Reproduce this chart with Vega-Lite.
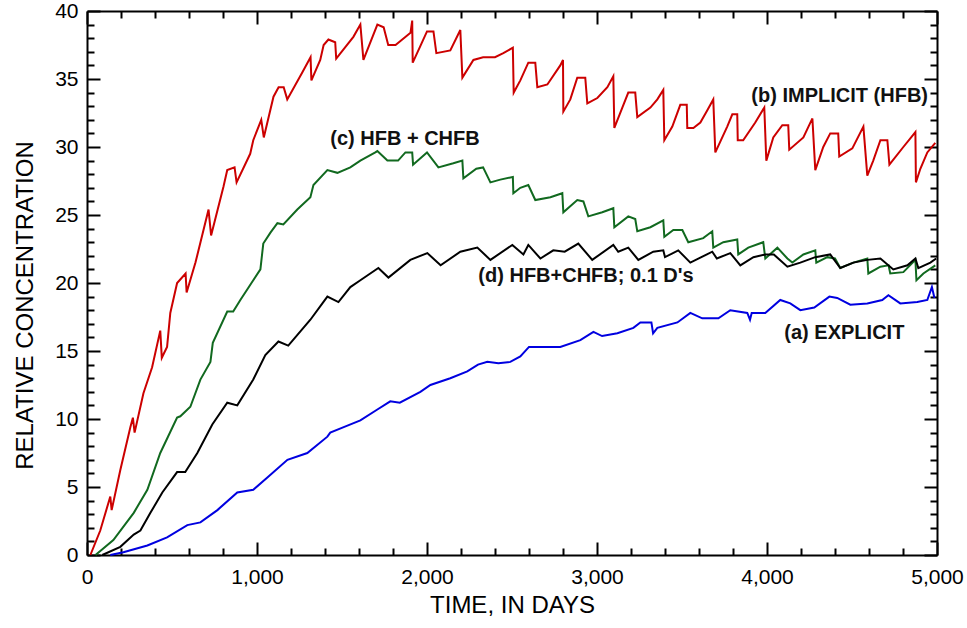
{
  "$schema": "https://vega.github.io/schema/vega-lite/v6.json",
  "width": 850,
  "height": 544,
  "autosize": {"type": "none"},
  "padding": {"left": 87, "top": 11, "right": 30, "bottom": 73},
  "background": "white",
  "config": {"view": {"stroke": null}},
  "data": {"values": [
      {"s":"lbl","t":3908,"c":33.75,"txt":"(b) IMPLICIT (HFB)"},
      {"s":"lbl","t":1431,"c":30.6,"txt":"(c) HFB + CHFB"},
      {"s":"lbl","t":2302,"c":20.5,"txt":"(d) HFB+CHFB; 0.1 D's"},
      {"s":"lbl","t":4102,"c":16.3,"txt":"(a) EXPLICIT"},
      {"s":"b","t":20,"c":0},{"s":"b","t":78,"c":1.8},{"s":"b","t":137,"c":4.3},{"s":"b","t":145,"c":3.3},{"s":"b","t":196,"c":6.25},{"s":"b","t":255,"c":9.4},{"s":"b","t":270,"c":10.1},{"s":"b","t":280,"c":9.0},{"s":"b","t":332,"c":11.9},{"s":"b","t":383,"c":13.8},{"s":"b","t":431,"c":16.5},{"s":"b","t":440,"c":14.5},{"s":"b","t":471,"c":15.3},{"s":"b","t":490,"c":17.8},{"s":"b","t":530,"c":20.0},{"s":"b","t":580,"c":20.7},{"s":"b","t":586,"c":19.3},{"s":"b","t":638,"c":21.5},{"s":"b","t":715,"c":25.4},{"s":"b","t":730,"c":23.5},{"s":"b","t":803,"c":27.1},{"s":"b","t":825,"c":28.3},{"s":"b","t":868,"c":28.5},{"s":"b","t":880,"c":27.4},{"s":"b","t":960,"c":29.5},{"s":"b","t":978,"c":30.5},{"s":"b","t":1025,"c":32.0},{"s":"b","t":1040,"c":30.7},{"s":"b","t":1097,"c":33.7},{"s":"b","t":1127,"c":34.4},{"s":"b","t":1157,"c":34.4},{"s":"b","t":1178,"c":33.5},{"s":"b","t":1267,"c":35.5},{"s":"b","t":1315,"c":36.6},{"s":"b","t":1320,"c":34.9},{"s":"b","t":1372,"c":36.4},{"s":"b","t":1392,"c":37.5},{"s":"b","t":1420,"c":37.9},{"s":"b","t":1460,"c":37.7},{"s":"b","t":1466,"c":36.5},{"s":"b","t":1567,"c":38.1},{"s":"b","t":1608,"c":39.0},{"s":"b","t":1626,"c":36.4},{"s":"b","t":1708,"c":39.0},{"s":"b","t":1745,"c":38.8},{"s":"b","t":1772,"c":37.5},{"s":"b","t":1815,"c":37.5},{"s":"b","t":1903,"c":38.4},{"s":"b","t":1913,"c":39.3},{"s":"b","t":1916,"c":36.2},{"s":"b","t":1960,"c":37.4},{"s":"b","t":2000,"c":38.5},{"s":"b","t":2038,"c":38.5},{"s":"b","t":2055,"c":36.9},{"s":"b","t":2137,"c":37.1},{"s":"b","t":2196,"c":38.6},{"s":"b","t":2208,"c":35.1},{"s":"b","t":2273,"c":36.4},{"s":"b","t":2330,"c":36.6},{"s":"b","t":2400,"c":36.6},{"s":"b","t":2449,"c":36.9},{"s":"b","t":2505,"c":37.3},{"s":"b","t":2510,"c":34.0},{"s":"b","t":2549,"c":34.9},{"s":"b","t":2596,"c":36.2},{"s":"b","t":2637,"c":36.2},{"s":"b","t":2649,"c":34.4},{"s":"b","t":2708,"c":34.6},{"s":"b","t":2784,"c":36.0},{"s":"b","t":2800,"c":36.4},{"s":"b","t":2802,"c":32.6},{"s":"b","t":2843,"c":33.5},{"s":"b","t":2884,"c":35.1},{"s":"b","t":2931,"c":35.1},{"s":"b","t":2943,"c":33.2},{"s":"b","t":3002,"c":33.6},{"s":"b","t":3061,"c":34.4},{"s":"b","t":3096,"c":35.2},{"s":"b","t":3102,"c":31.4},{"s":"b","t":3149,"c":32.9},{"s":"b","t":3184,"c":34.0},{"s":"b","t":3225,"c":34.0},{"s":"b","t":3237,"c":32.2},{"s":"b","t":3314,"c":32.9},{"s":"b","t":3355,"c":33.5},{"s":"b","t":3390,"c":34.2},{"s":"b","t":3396,"c":30.5},{"s":"b","t":3443,"c":31.5},{"s":"b","t":3490,"c":33.1},{"s":"b","t":3528,"c":33.1},{"s":"b","t":3531,"c":31.4},{"s":"b","t":3567,"c":31.4},{"s":"b","t":3608,"c":31.8},{"s":"b","t":3649,"c":32.7},{"s":"b","t":3684,"c":33.5},{"s":"b","t":3696,"c":29.6},{"s":"b","t":3766,"c":31.5},{"s":"b","t":3796,"c":32.4},{"s":"b","t":3825,"c":32.4},{"s":"b","t":3828,"c":30.5},{"s":"b","t":3860,"c":30.5},{"s":"b","t":3931,"c":31.8},{"s":"b","t":3984,"c":32.9},{"s":"b","t":3996,"c":29.0},{"s":"b","t":4037,"c":30.7},{"s":"b","t":4090,"c":31.6},{"s":"b","t":4125,"c":31.6},{"s":"b","t":4131,"c":29.8},{"s":"b","t":4214,"c":30.7},{"s":"b","t":4267,"c":32.1},{"s":"b","t":4284,"c":28.3},{"s":"b","t":4331,"c":30.0},{"s":"b","t":4372,"c":31.0},{"s":"b","t":4419,"c":31.0},{"s":"b","t":4425,"c":29.3},{"s":"b","t":4502,"c":29.9},{"s":"b","t":4567,"c":31.5},{"s":"b","t":4590,"c":27.9},{"s":"b","t":4625,"c":29.0},{"s":"b","t":4667,"c":30.5},{"s":"b","t":4708,"c":30.5},{"s":"b","t":4720,"c":28.7},{"s":"b","t":4802,"c":30.0},{"s":"b","t":4873,"c":31.1},{"s":"b","t":4876,"c":27.4},{"s":"b","t":4902,"c":28.4},{"s":"b","t":4943,"c":29.6},{"s":"b","t":4990,"c":30.3},
      {"s":"c","t":50,"c":0},{"s":"c","t":155,"c":1.1},{"s":"c","t":275,"c":3.1},{"s":"c","t":355,"c":4.8},{"s":"c","t":431,"c":7.5},{"s":"c","t":530,"c":10.1},{"s":"c","t":549,"c":10.2},{"s":"c","t":608,"c":10.9},{"s":"c","t":667,"c":12.9},{"s":"c","t":726,"c":14.2},{"s":"c","t":740,"c":15.6},{"s":"c","t":825,"c":17.9},{"s":"c","t":860,"c":17.9},{"s":"c","t":902,"c":18.75},{"s":"c","t":978,"c":20.2},{"s":"c","t":1020,"c":21.0},{"s":"c","t":1037,"c":22.9},{"s":"c","t":1079,"c":23.7},{"s":"c","t":1120,"c":24.4},{"s":"c","t":1155,"c":24.3},{"s":"c","t":1237,"c":25.4},{"s":"c","t":1314,"c":26.3},{"s":"c","t":1332,"c":27.2},{"s":"c","t":1414,"c":28.3},{"s":"c","t":1473,"c":28.1},{"s":"c","t":1549,"c":28.5},{"s":"c","t":1608,"c":29.0},{"s":"c","t":1696,"c":29.6},{"s":"c","t":1708,"c":29.7},{"s":"c","t":1767,"c":29.0},{"s":"c","t":1830,"c":29.0},{"s":"c","t":1873,"c":29.6},{"s":"c","t":1913,"c":29.6},{"s":"c","t":1918,"c":28.7},{"s":"c","t":2000,"c":29.6},{"s":"c","t":2067,"c":28.5},{"s":"c","t":2155,"c":28.8},{"s":"c","t":2208,"c":29.0},{"s":"c","t":2214,"c":27.7},{"s":"c","t":2290,"c":28.4},{"s":"c","t":2330,"c":28.5},{"s":"c","t":2373,"c":27.4},{"s":"c","t":2431,"c":27.6},{"s":"c","t":2505,"c":27.8},{"s":"c","t":2508,"c":26.6},{"s":"c","t":2549,"c":27.0},{"s":"c","t":2596,"c":27.2},{"s":"c","t":2637,"c":26.1},{"s":"c","t":2726,"c":26.3},{"s":"c","t":2796,"c":26.6},{"s":"c","t":2802,"c":25.2},{"s":"c","t":2884,"c":26.1},{"s":"c","t":2920,"c":26.0},{"s":"c","t":2949,"c":24.9},{"s":"c","t":3031,"c":25.2},{"s":"c","t":3096,"c":25.5},{"s":"c","t":3102,"c":24.1},{"s":"c","t":3184,"c":24.9},{"s":"c","t":3225,"c":24.7},{"s":"c","t":3237,"c":23.8},{"s":"c","t":3314,"c":24.1},{"s":"c","t":3390,"c":24.6},{"s":"c","t":3396,"c":23.4},{"s":"c","t":3449,"c":23.9},{"s":"c","t":3502,"c":23.9},{"s":"c","t":3537,"c":23.0},{"s":"c","t":3625,"c":23.3},{"s":"c","t":3678,"c":23.8},{"s":"c","t":3684,"c":22.6},{"s":"c","t":3743,"c":23.0},{"s":"c","t":3825,"c":23.2},{"s":"c","t":3831,"c":22.1},{"s":"c","t":3890,"c":22.6},{"s":"c","t":3978,"c":23.0},{"s":"c","t":3990,"c":21.8},{"s":"c","t":4061,"c":22.6},{"s":"c","t":4120,"c":21.8},{"s":"c","t":4149,"c":21.5},{"s":"c","t":4214,"c":22.1},{"s":"c","t":4284,"c":22.4},{"s":"c","t":4290,"c":21.5},{"s":"c","t":4355,"c":21.9},{"s":"c","t":4400,"c":21.8},{"s":"c","t":4431,"c":21.1},{"s":"c","t":4508,"c":21.5},{"s":"c","t":4590,"c":21.8},{"s":"c","t":4596,"c":20.7},{"s":"c","t":4667,"c":21.2},{"s":"c","t":4715,"c":21.3},{"s":"c","t":4725,"c":20.7},{"s":"c","t":4802,"c":20.8},{"s":"c","t":4873,"c":21.7},{"s":"c","t":4879,"c":20.2},{"s":"c","t":4920,"c":20.7},{"s":"c","t":4990,"c":21.3},
      {"s":"d","t":90,"c":0},{"s":"d","t":196,"c":0.6},{"s":"d","t":275,"c":1.5},{"s":"d","t":314,"c":1.8},{"s":"d","t":373,"c":3.1},{"s":"d","t":443,"c":4.6},{"s":"d","t":530,"c":6.1},{"s":"d","t":578,"c":6.1},{"s":"d","t":649,"c":7.5},{"s":"d","t":737,"c":9.6},{"s":"d","t":825,"c":11.2},{"s":"d","t":884,"c":11.0},{"s":"d","t":978,"c":12.9},{"s":"d","t":1049,"c":14.7},{"s":"d","t":1126,"c":15.7},{"s":"d","t":1184,"c":15.4},{"s":"d","t":1314,"c":17.3},{"s":"d","t":1390,"c":18.6},{"s":"d","t":1414,"c":19.0},{"s":"d","t":1479,"c":18.6},{"s":"d","t":1549,"c":19.7},{"s":"d","t":1608,"c":20.2},{"s":"d","t":1714,"c":21.1},{"s":"d","t":1773,"c":20.4},{"s":"d","t":1902,"c":21.7},{"s":"d","t":2002,"c":22.2},{"s":"d","t":2080,"c":21.3},{"s":"d","t":2196,"c":22.3},{"s":"d","t":2296,"c":22.6},{"s":"d","t":2373,"c":21.7},{"s":"d","t":2502,"c":22.8},{"s":"d","t":2567,"c":22.1},{"s":"d","t":2596,"c":22.8},{"s":"d","t":2667,"c":21.8},{"s":"d","t":2743,"c":22.4},{"s":"d","t":2810,"c":22.3},{"s":"d","t":2890,"c":22.9},{"s":"d","t":2972,"c":21.7},{"s":"d","t":3096,"c":22.8},{"s":"d","t":3125,"c":22.3},{"s":"d","t":3184,"c":22.6},{"s":"d","t":3243,"c":21.7},{"s":"d","t":3331,"c":22.3},{"s":"d","t":3390,"c":22.4},{"s":"d","t":3400,"c":21.9},{"s":"d","t":3478,"c":22.4},{"s":"d","t":3549,"c":21.5},{"s":"d","t":3678,"c":22.3},{"s":"d","t":3705,"c":21.8},{"s":"d","t":3784,"c":22.2},{"s":"d","t":3843,"c":21.3},{"s":"d","t":3920,"c":21.9},{"s":"d","t":3990,"c":22.1},{"s":"d","t":4040,"c":22.1},{"s":"d","t":4120,"c":21.2},{"s":"d","t":4196,"c":21.5},{"s":"d","t":4284,"c":21.9},{"s":"d","t":4372,"c":22.1},{"s":"d","t":4431,"c":21.1},{"s":"d","t":4508,"c":21.5},{"s":"d","t":4590,"c":21.7},{"s":"d","t":4667,"c":21.8},{"s":"d","t":4743,"c":21.0},{"s":"d","t":4826,"c":21.3},{"s":"d","t":4873,"c":21.8},{"s":"d","t":4890,"c":21.1},{"s":"d","t":4961,"c":21.5},{"s":"d","t":4995,"c":21.8},
      {"s":"a","t":137,"c":0},{"s":"a","t":214,"c":0.2},{"s":"a","t":355,"c":0.7},{"s":"a","t":471,"c":1.3},{"s":"a","t":590,"c":2.2},{"s":"a","t":667,"c":2.4},{"s":"a","t":767,"c":3.3},{"s":"a","t":884,"c":4.6},{"s":"a","t":978,"c":4.8},{"s":"a","t":1061,"c":5.7},{"s":"a","t":1179,"c":7.0},{"s":"a","t":1296,"c":7.5},{"s":"a","t":1414,"c":8.7},{"s":"a","t":1431,"c":9.0},{"s":"a","t":1510,"c":9.4},{"s":"a","t":1608,"c":9.9},{"s":"a","t":1708,"c":10.7},{"s":"a","t":1784,"c":11.3},{"s":"a","t":1840,"c":11.2},{"s":"a","t":1961,"c":12.0},{"s":"a","t":2020,"c":12.5},{"s":"a","t":2137,"c":13.0},{"s":"a","t":2237,"c":13.5},{"s":"a","t":2300,"c":14.0},{"s":"a","t":2355,"c":14.2},{"s":"a","t":2420,"c":14.1},{"s":"a","t":2490,"c":14.2},{"s":"a","t":2549,"c":14.6},{"s":"a","t":2600,"c":15.3},{"s":"a","t":2649,"c":15.3},{"s":"a","t":2784,"c":15.3},{"s":"a","t":2902,"c":15.8},{"s":"a","t":2979,"c":16.4},{"s":"a","t":3030,"c":16.1},{"s":"a","t":3120,"c":16.3},{"s":"a","t":3214,"c":16.7},{"s":"a","t":3255,"c":17.1},{"s":"a","t":3320,"c":17.1},{"s":"a","t":3330,"c":16.3},{"s":"a","t":3355,"c":16.7},{"s":"a","t":3473,"c":17.1},{"s":"a","t":3549,"c":17.8},{"s":"a","t":3619,"c":17.4},{"s":"a","t":3714,"c":17.4},{"s":"a","t":3784,"c":18.0},{"s":"a","t":3884,"c":17.8},{"s":"a","t":3900,"c":17.3},{"s":"a","t":3910,"c":17.8},{"s":"a","t":3990,"c":17.8},{"s":"a","t":4078,"c":18.75},{"s":"a","t":4137,"c":18.5},{"s":"a","t":4196,"c":18.0},{"s":"a","t":4278,"c":18.2},{"s":"a","t":4367,"c":19.0},{"s":"a","t":4413,"c":18.9},{"s":"a","t":4490,"c":18.4},{"s":"a","t":4590,"c":18.5},{"s":"a","t":4678,"c":18.75},{"s":"a","t":4714,"c":19.1},{"s":"a","t":4784,"c":18.5},{"s":"a","t":4884,"c":18.6},{"s":"a","t":4943,"c":18.75},{"s":"a","t":4970,"c":19.7},{"s":"a","t":4985,"c":18.9}
  ]},
  "layer": [
    {
      "transform": [{"filter": "datum.s !== 'lbl'"}],
      "mark": {"type": "line", "strokeWidth": 2},
      "encoding": {
        "x": {
          "field": "t", "type": "quantitative",
          "scale": {"domain": [0, 5000], "nice": false},
          "axis": {
            "orient": "bottom", "values": [0, 1000, 2000, 3000, 4000, 5000],
            "ticks": true, "tickSize": -13, "tickColor": "black", "tickWidth": 2, "grid": false,
            "domain": true, "domainColor": "black", "domainWidth": 2,
            "labelOverlap": false, "labelFlush": false, "labelBound": false,
            "labelFont": "Liberation Sans", "labelFontSize": 21, "labelColor": "black", "labelPadding": 24,
            "title": "TIME, IN DAYS", "titleFont": "Liberation Sans", "titleFontSize": 24, "titleFontWeight": "normal", "titleColor": "black", "titlePadding": 6
          }
        },
        "y": {
          "field": "c", "type": "quantitative",
          "scale": {"domain": [0, 40], "nice": false},
          "axis": {
            "orient": "left", "values": [0, 5, 10, 15, 20, 25, 30, 35, 40],
            "ticks": true, "tickSize": -13, "tickColor": "black", "tickWidth": 2, "grid": false,
            "domain": true, "domainColor": "black", "domainWidth": 2,
            "labelOverlap": false, "labelFlush": false, "labelBound": false,
            "labelFont": "Liberation Sans", "labelFontSize": 21, "labelColor": "black", "labelPadding": 22,
            "title": "RELATIVE CONCENTRATION", "titleFont": "Liberation Sans", "titleFontSize": 24, "titleFontWeight": "normal", "titleColor": "black", "titlePadding": 17, "titleY": 294
          }
        },
        "color": {
          "field": "s", "type": "nominal",
          "scale": {"domain": ["a", "b", "c", "d"], "range": ["#0000e0", "#cc0000", "#11691f", "#000000"]},
          "legend": null
        }
      }
    },
    {
      "transform": [{"filter": "datum.s === 'lbl'"}],
      "mark": {"type": "text", "align": "left", "baseline": "middle", "font": "Liberation Sans", "fontSize": 20, "fontWeight": "bold", "fill": "#111111"},
      "encoding": {
        "x": {
          "field": "t", "type": "quantitative",
          "scale": {"domain": [0, 5000], "nice": false},
          "axis": {"orient": "bottom", "values": [200,400,600,800,1200,1400,1600,1800,2200,2400,2600,2800,3200,3400,3600,3800,4200,4400,4600,4800], "ticks": true, "tickSize": -7, "tickColor": "black", "tickWidth": 2, "grid": false, "labels": false, "domain": false, "title": null}
        },
        "y": {
          "field": "c", "type": "quantitative",
          "scale": {"domain": [0, 40], "nice": false},
          "axis": {"orient": "left", "values": [1,2,3,4,6,7,8,9,11,12,13,14,16,17,18,19,21,22,23,24,26,27,28,29,31,32,33,34,36,37,38,39], "ticks": true, "tickSize": -7, "tickColor": "black", "tickWidth": 2, "grid": false, "labels": false, "domain": false, "title": null}
        },
        "text": {"field": "txt", "type": "nominal"}
      }
    },
    {
      "transform": [{"filter": "datum.s === 'lbl'"}],
      "mark": {"type": "point", "opacity": 0},
      "encoding": {
        "x": {
          "field": "t", "type": "quantitative",
          "scale": {"domain": [0, 5000], "nice": false},
          "axis": {"orient": "top", "values": [0, 1000, 2000, 3000, 4000, 5000], "ticks": true, "tickSize": -13, "tickColor": "black", "tickWidth": 2, "grid": false, "labels": false, "domain": true, "domainColor": "black", "domainWidth": 2, "title": null}
        },
        "y": {
          "field": "c", "type": "quantitative",
          "scale": {"domain": [0, 40], "nice": false},
          "axis": {"orient": "right", "values": [0, 5, 10, 15, 20, 25, 30, 35, 40], "ticks": true, "tickSize": -13, "tickColor": "black", "tickWidth": 2, "grid": false, "labels": false, "domain": true, "domainColor": "black", "domainWidth": 2, "title": null}
        }
      }
    },
    {
      "transform": [{"filter": "datum.s === 'lbl'"}],
      "mark": {"type": "point", "opacity": 0},
      "encoding": {
        "x": {
          "field": "t", "type": "quantitative",
          "scale": {"domain": [0, 5000], "nice": false},
          "axis": {"orient": "top", "values": [200,400,600,800,1200,1400,1600,1800,2200,2400,2600,2800,3200,3400,3600,3800,4200,4400,4600,4800], "ticks": true, "tickSize": -7, "tickColor": "black", "tickWidth": 2, "grid": false, "labels": false, "domain": false, "title": null}
        },
        "y": {
          "field": "c", "type": "quantitative",
          "scale": {"domain": [0, 40], "nice": false},
          "axis": {"orient": "right", "values": [1,2,3,4,6,7,8,9,11,12,13,14,16,17,18,19,21,22,23,24,26,27,28,29,31,32,33,34,36,37,38,39], "ticks": true, "tickSize": -7, "tickColor": "black", "tickWidth": 2, "grid": false, "labels": false, "domain": false, "title": null}
        }
      }
    }
  ],
  "resolve": {"axis": {"x": "independent", "y": "independent"}}
}
